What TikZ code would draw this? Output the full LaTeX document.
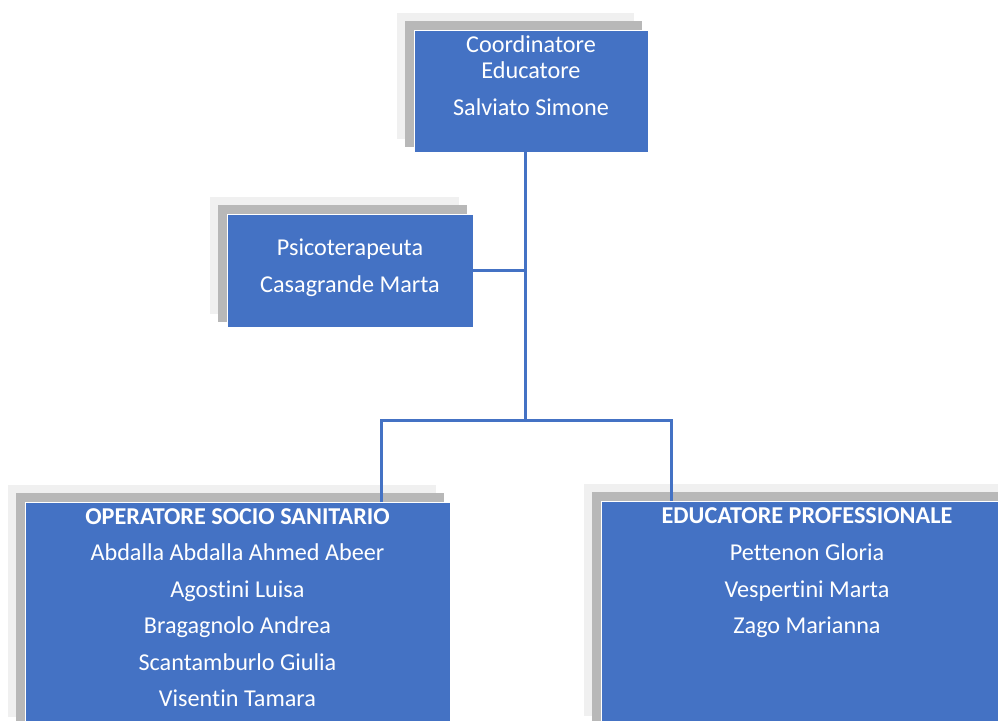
\documentclass[tikz,border=0pt]{standalone}
\usepackage{fontspec}
\setmainfont[RawFeature=-liga]{Carlito}
\definecolor{boxblue}{HTML}{4472C4}
\definecolor{shdark}{HTML}{B8B8B8}
\definecolor{shlight}{HTML}{F0F0F0}
\newcommand{\orgbox}[5]{%
  \fill[shlight] (#2-17,#3-17) rectangle ++(#4+3,#5+4);
  \fill[shdark] (#2-9,#3-9) rectangle ++(#4+3,#5+4);
  \node[box, minimum width=#4pt, minimum height=#5pt] (#1) at (#2,#3) {};
}
\begin{document}
\begin{tikzpicture}[x=1pt,y=-1pt,
  box/.style={draw=white, line width=1pt, fill=boxblue, inner sep=0pt, outer sep=0pt, anchor=north west},
  txt/.style={text=white, font=\fontsize{24.2}{28}\selectfont, inner sep=0pt, anchor=base},
  hdr/.style={txt, font=\fontsize{24.2}{28}\selectfont\bfseries},
  link/.style={draw=boxblue, line width=3pt}]
\useasboundingbox (0,0) rectangle (998,720);
\clip (0,0) rectangle (998,720);
\orgbox{coord}{414}{30}{234}{122}
\orgbox{psy}{227}{214}{246}{113}
\orgbox{oss}{25}{502}{425}{228}
\orgbox{edu}{601}{501}{412}{228}
% texts
\node[txt] (t1) at (531,52) {Coordinatore};
\node[txt] (t2) at (531,78) {Educatore};
\node[txt] (t3) at (531,115) {Salviato Simone};
\node[txt] (p1) at (350,255) {Psicoterapeuta};
\node[txt] (p2) at (350,292) {Casagrande Marta};
\node[hdr] (o0) at (237.5,524) {OPERATORE SOCIO SANITARIO};
\node[txt] (o1) at (237.5,560) {Abdalla Abdalla Ahmed Abeer};
\node[txt] (o2) at (237.5,597) {Agostini Luisa};
\node[txt] (o3) at (237.5,633) {Bragagnolo Andrea};
\node[txt] (o4) at (237.5,670) {Scantamburlo Giulia};
\node[txt] (o5) at (237.5,706) {Visentin Tamara};
\node[hdr] (e0) at (807,523) {EDUCATORE PROFESSIONALE};
\node[txt] (e1) at (807,560) {Pettenon Gloria};
\node[txt] (e2) at (807,597) {Vespertini Marta};
\node[txt] (e3) at (807,633) {Zago Marianna};
% connectors
\coordinate (hub) at (525,270.5);
\coordinate (split) at (525,420);
\coordinate (ossin) at (381,502);
\coordinate (eduin) at (671,501);
\draw[link] (coord.south -| split) -- (split);
\draw[link] (psy.east) -- (hub);
\draw[link] (ossin) |- (split) -| (eduin);
\end{tikzpicture}
\end{document}
